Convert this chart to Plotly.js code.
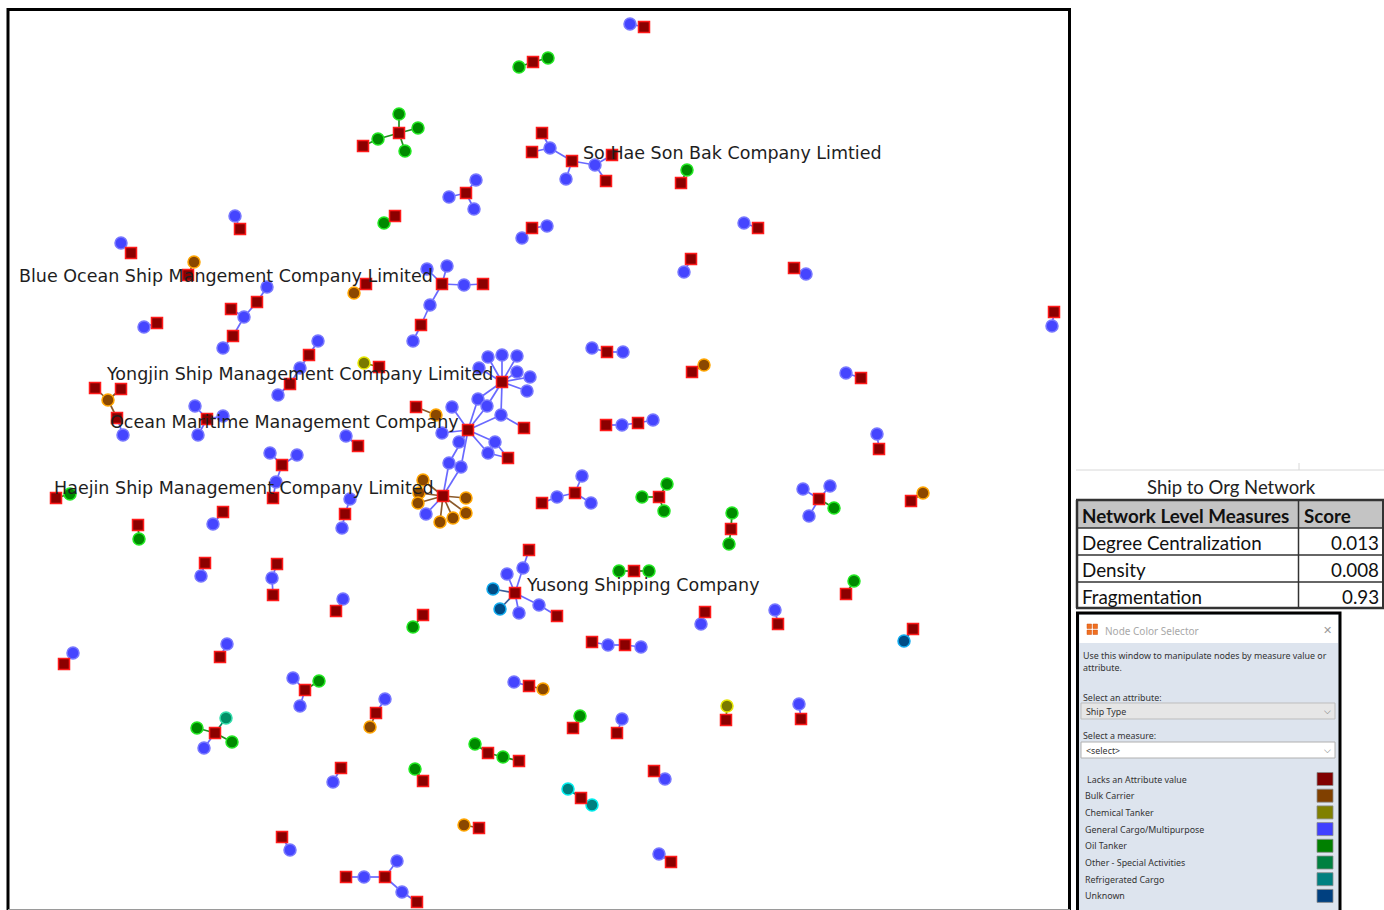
<!DOCTYPE html>
<html><head><meta charset="utf-8">
<script src="https://cdn.plot.ly/plotly-3.0.1.min.js"></script>
<style>html,body{margin:0;padding:0;background:#fff;overflow:hidden}#chart{width:1384px;height:910px}</style>
</head><body><div id="chart"></div>
<script>
// ---------- DATA ----------
// Organisation nodes (layout coordinates)
const orgX = [644,533,399,363,542,532,572,612,606,681,466,395,532,240,758,131,691,794,188,366,442,483,421,257,231,233,157,1054,309,290,379,502,607,692,861,95,121,117,207,416,468,524,508,606,638,879,358,282,273,443,56,345,223,138,542,575,659,731,819,911,515,529,557,634,205,277,273,336,423,846,705,778,913,592,625,64,220,305,376,529,215,488,519,573,617,726,801,341,423,654,581,479,282,671,346,385,417];
const orgY = [27,62,133,146,133,152,161,155,181,183,193,216,228,229,228,253,259,268,275,284,284,284,325,302,309,336,323,312,355,384,367,382,352,372,378,388,389,418,419,407,430,428,458,425,423,449,446,465,498,496,498,514,512,525,503,493,497,529,499,501,593,550,616,571,563,564,595,611,615,594,612,624,629,642,645,664,657,690,713,686,733,753,761,728,733,720,719,768,781,771,798,828,837,862,877,877,902];
// Ship nodes
const shipX = [630,519,548,399,418,405,378,550,595,566,687,476,449,474,384,547,522,235,744,121,684,806,194,354,427,447,464,430,413,267,244,223,144,1052,318,300,278,364,488,502,517,479,517,530,527,478,487,501,452,442,459,495,488,449,461,592,623,704,846,108,123,195,223,198,436,622,653,877,346,270,297,276,423,419,418,466,466,453,440,426,70,350,342,213,139,557,582,591,642,667,664,732,729,803,830,809,834,923,523,507,493,500,519,539,619,649,201,272,343,413,854,701,775,904,608,641,73,227,293,319,300,385,370,514,543,197,226,232,204,475,503,580,622,727,799,333,415,665,568,592,464,290,659,364,397,402];
const shipY = [24,67,58,114,128,151,139,148,165,179,170,180,197,209,223,226,238,216,223,243,272,274,262,293,269,266,285,305,341,287,317,348,327,326,341,368,395,363,357,355,356,368,372,377,391,399,406,415,407,433,442,442,453,463,467,348,352,365,373,400,435,406,416,435,415,425,420,434,436,453,455,482,480,493,503,498,513,518,522,514,494,499,528,524,539,497,476,503,497,484,511,513,544,489,486,516,508,493,568,574,589,609,613,605,571,571,576,578,599,627,581,624,610,641,645,647,653,644,678,681,706,699,727,682,689,728,718,742,748,744,757,716,719,706,704,782,769,779,789,805,825,850,854,877,861,892];
// Ship type codes: B bulk, C chemical, G general cargo, O oil, S other special, R refrigerated, U unknown
const shipType = ['G','O','O','O','O','O','O','G','G','G','O','G','G','G','O','G','G','G','G','G','G','G','B','B','G','G','G','G','G','G','G','G','G','G','G','G','G','C','G','G','G','G','G','G','G','G','G','G','G','G','G','G','G','G','G','G','G','B','G','B','G','G','G','G','B','G','G','G','G','G','G','G','B','B','B','B','B','B','B','G','O','G','G','G','O','G','G','G','O','O','O','O','O','G','G','G','O','B','G','G','U','U','G','G','O','O','G','G','G','O','O','G','G','U','G','G','G','G','G','O','G','G','B','G','B','O','S','O','G','O','O','O','G','C','G','G','O','G','R','R','B','G','G','G','G','G'];
// Organisations each ship is linked to (indices into org arrays)
const shipLinks = [[0],[1],[1],[2],[2],[2],[2,3],[4,5,6],[6,7,8],[6],[9],[10],[10],[10],[11],[12],[12],[13],[14],[15],[16],[17],[18],[19],[20],[20],[20,21],[20,22],[22],[23],[23,24,25],[25],[26],[27],[28],[28,29],[29],[30],[31],[31],[31],[31],[31],[31],[31],[31,40],[31,40],[31,40,41],[40],[40],[40],[40,42],[40,42],[40,49],[40,49],[32],[32],[33],[34],[35,36,37],[37],[38],[38],[38],[39],[43,44],[44],[45],[46],[47],[47],[47,48],[49],[49],[49],[49],[49],[49],[49],[49],[50],[51],[51],[52],[53],[54,55],[55],[55],[56],[56],[56],[57],[57],[58],[58],[58],[58],[59],[60,61],[60],[60],[60],[60],[60,62],[63],[63],[64],[65,66],[67],[68],[69],[70],[71],[72],[73,74],[74],[75],[76],[77],[77],[77],[78],[78],[79],[79],[80],[80],[80],[80],[81],[81,82],[83],[84],[85],[86],[87],[88],[89],[90],[90],[91],[92],[93],[94,95],[95],[95,96]];
// Labelled organisations
const labelOrg = [6,20,31,40,49,60];
const labelText = ['So Hae Son Bak Company Limtied','Blue Ocean Ship Mangement Company Limited','Yongjin Ship Management Company Limited','Ocean Maritime Management Company','Haejin Ship Management Company Limited','Yusong Shipping Company'];
const labelSide = ['left','right','right','right','right','left'];
// Measures table
const tableTitle = 'Ship to Org Network';
const tableHeader = ['Network Level Measures','Score'];
const measureNames = ['Degree Centralization','Density','Fragmentation'];
const measureScores = ['0.013','0.008','0.93'];
// Node colour legend
const typeCodes = ['L','B','C','G','O','S','R','U'];
const typeNames = ['Lacks an Attribute value','Bulk Carrier','Chemical Tanker','General Cargo/Multipurpose','Oil Tanker','Other - Special Activities','Refrigerated Cargo','Unknown'];
const typeColors = ['#800000','#804000','#808000','#4040ff','#008000','#008040','#008080','#004080'];

// ---------- STYLE ----------
const nodeFill = {B:'#8b4800',C:'#7a7a00',G:'#4545ff',O:'#008a00',S:'#008f66',R:'#008080',U:'#004c86'};
const nodeGlow = {B:'#ffa500',C:'#e6e600',G:'#7777ff',O:'#22e822',S:'#33ddaa',R:'#00eeee',U:'#11aaee'};
const edgeCol  = {B:'#8b5a2b',C:'#808000',G:'#6a6aff',O:'#1f8f1f',S:'#008a60',R:'#008080',U:'#3a5f9a'};

const traces = [];
const kinds = ['G','B','O','C','S','R','U'];
kinds.forEach(k => {
  const ex = [], ey = [];
  shipType.forEach((t, i) => {
    if (t !== k) return;
    shipLinks[i].forEach(o => { ex.push(orgX[o], shipX[i], null); ey.push(orgY[o], shipY[i], null); });
  });
  if (ex.length) traces.push({type:'scatter', mode:'lines', x:ex, y:ey, line:{color:edgeCol[k], width:1.7}, hoverinfo:'skip'});
});
kinds.forEach(k => {
  const xs = [], ys = [];
  shipType.forEach((t, i) => { if (t === k) { xs.push(shipX[i]); ys.push(shipY[i]); } });
  if (xs.length) traces.push({type:'scatter', mode:'markers', x:xs, y:ys,
    marker:{symbol:'circle', size:12, color:nodeFill[k], line:{color:nodeGlow[k], width:1.5}}, hoverinfo:'skip'});
});
traces.push({type:'scatter', mode:'markers', x:orgX, y:orgY,
  marker:{symbol:'square', size:11, color:'#8b0000', line:{color:'#ff1a1a', width:1.5}}, hoverinfo:'skip'});

const shapes = [];
const ann = [];
// network frame
shapes.push({type:'rect', x0:8, y0:9.5, x1:1069.5, y1:920, line:{color:'#000', width:3}, fillcolor:'rgba(0,0,0,0)', layer:'below'});
shapes.push({type:'line', x0:8, y0:909.5, x1:1070, y1:909.5, line:{color:'#9a9a9a', width:1}});

// labels
labelOrg.forEach((o, i) => {
  const left = labelSide[i] === 'left';
  ann.push({x: left ? orgX[o] + 9 : orgX[o] - 7, y: orgY[o] - 8, xanchor: left ? 'left' : 'right', yanchor:'middle',
    text: labelText[i], showarrow:false, font:{family:'DejaVu Sans', size:17.5, color:'#1e1e1e'}});
});

// table
const tf = 18.8;
shapes.push({type:'line', x0:1076, y0:470, x1:1384, y1:470, line:{color:'#d8d8d8', width:1}});
shapes.push({type:'line', x0:1299, y0:463, x1:1299, y1:470, line:{color:'#d8d8d8', width:1}});
ann.push({x:1231, y:487, text:tableTitle, showarrow:false, xanchor:'center', yanchor:'middle', font:{family:'Lato', size:18.5, color:'#222'}});
const rowTop = [500, 528, 555, 582, 608];
shapes.push({type:'rect', x0:1076, y0:rowTop[0], x1:1383, y1:rowTop[1], fillcolor:'#c4c4c4', line:{width:0}});
for (let r = 0; r < rowTop.length; r++) {
  shapes.push({type:'line', x0:1076, y0:rowTop[r], x1:1384, y1:rowTop[r], line:{color:'#333', width:(r===0||r===rowTop.length-1)?2.5:1.5}});
}
shapes.push({type:'line', x0:1077, y0:rowTop[0], x1:1077, y1:rowTop[4], line:{color:'#333', width:2.5}});
shapes.push({type:'line', x0:1383, y0:rowTop[0], x1:1383, y1:rowTop[4], line:{color:'#333', width:2}});
shapes.push({type:'line', x0:1298.5, y0:rowTop[0], x1:1298.5, y1:rowTop[4], line:{color:'#333', width:1.5}});
ann.push({x:1080, y:(rowTop[0]+rowTop[1])/2+1, text:'<b>'+tableHeader[0]+'</b>', showarrow:false, xanchor:'left', yanchor:'middle', font:{family:'Lato', size:tf, color:'#111'}});
ann.push({x:1302, y:(rowTop[0]+rowTop[1])/2+1, text:'<b>'+tableHeader[1]+'</b>', showarrow:false, xanchor:'left', yanchor:'middle', font:{family:'Lato', size:tf, color:'#111'}});
measureNames.forEach((m, i) => {
  const yc = (rowTop[i+1] + rowTop[i+2]) / 2 + 1;
  ann.push({x:1080, y:yc, text:m, showarrow:false, xanchor:'left', yanchor:'middle', font:{family:'Lato', size:tf, color:'#111'}});
  ann.push({x:1381, y:yc, text:measureScores[i], showarrow:false, xanchor:'right', yanchor:'middle', font:{family:'Lato', size:tf, color:'#111'}});
});

// node colour selector panel
const pf = 8.9;
shapes.push({type:'rect', x0:1077.5, y0:613, x1:1340, y1:925, fillcolor:'#dde4ee', line:{color:'#000', width:3}});
shapes.push({type:'rect', x0:1079.5, y0:615, x1:1338, y1:643, fillcolor:'#ffffff', line:{width:0}});
// icon
[[1087,624],[1093,624],[1087,630],[1093,630]].forEach(p => shapes.push({type:'rect', x0:p[0], y0:p[1], x1:p[0]+4.5, y1:p[1]+4.5, fillcolor:'#f07020', line:{color:'#d05010', width:0.5}}));
ann.push({x:1103, y:631, text:'Node Color Selector', showarrow:false, xanchor:'left', yanchor:'middle', font:{family:'Noto Sans', size:10, color:'#a8a8a8'}});
ann.push({x:1327, y:630, text:'✕', showarrow:false, xanchor:'center', yanchor:'middle', font:{family:'DejaVu Sans', size:11, color:'#9a9a9a'}});
ann.push({x:1081, y:655, text:'Use this window to manipulate nodes by measure value or', showarrow:false, xanchor:'left', yanchor:'middle', font:{family:'Noto Sans', size:pf, color:'#333'}});
ann.push({x:1081, y:667, text:'attribute.', showarrow:false, xanchor:'left', yanchor:'middle', font:{family:'Noto Sans', size:pf, color:'#333'}});
ann.push({x:1081, y:697, text:'Select an attribute:', showarrow:false, xanchor:'left', yanchor:'middle', font:{family:'Noto Sans', size:pf, color:'#333'}});
shapes.push({type:'rect', x0:1081, y0:703, x1:1335, y1:719, fillcolor:'#e6e6e6', line:{color:'#bdbdbd', width:1}});
ann.push({x:1084, y:711, text:'Ship Type', showarrow:false, xanchor:'left', yanchor:'middle', font:{family:'Noto Sans', size:pf, color:'#333'}});
ann.push({x:1327, y:711, text:'⌵', showarrow:false, xanchor:'center', yanchor:'middle', font:{family:'DejaVu Sans', size:9, color:'#666'}});
ann.push({x:1081, y:735, text:'Select a measure:', showarrow:false, xanchor:'left', yanchor:'middle', font:{family:'Noto Sans', size:pf, color:'#333'}});
shapes.push({type:'rect', x0:1081, y0:742, x1:1335, y1:758, fillcolor:'#ffffff', line:{color:'#b0b0b0', width:1}});
ann.push({x:1084, y:750, text:'&lt;select&gt;', showarrow:false, xanchor:'left', yanchor:'middle', font:{family:'Noto Sans', size:pf, color:'#333'}});
ann.push({x:1327, y:750, text:'⌵', showarrow:false, xanchor:'center', yanchor:'middle', font:{family:'DejaVu Sans', size:9, color:'#666'}});
typeNames.forEach((n, i) => {
  const yc = 779 + i * 16.7;
  ann.push({x: i === 0 ? 1085 : 1083, y:yc, text:n, showarrow:false, xanchor:'left', yanchor:'middle', font:{family:'Noto Sans', size:pf, color:'#333'}});
  shapes.push({type:'rect', x0:1317, y0:yc-6.5, x1:1333, y1:yc+6.5, fillcolor:typeColors[i], line:{color:'#8a8a8a', width:0.8}});
});

const layout = {
  width:1384, height:910, margin:{l:0,r:0,t:0,b:0}, paper_bgcolor:'#fff', plot_bgcolor:'#fff', showlegend:false,
  xaxis:{range:[0,1384], visible:false, fixedrange:true},
  yaxis:{range:[910,0], visible:false, fixedrange:true},
  shapes:shapes, annotations:ann
};
Plotly.newPlot('chart', traces, layout, {staticPlot:true});
</script></body></html>
